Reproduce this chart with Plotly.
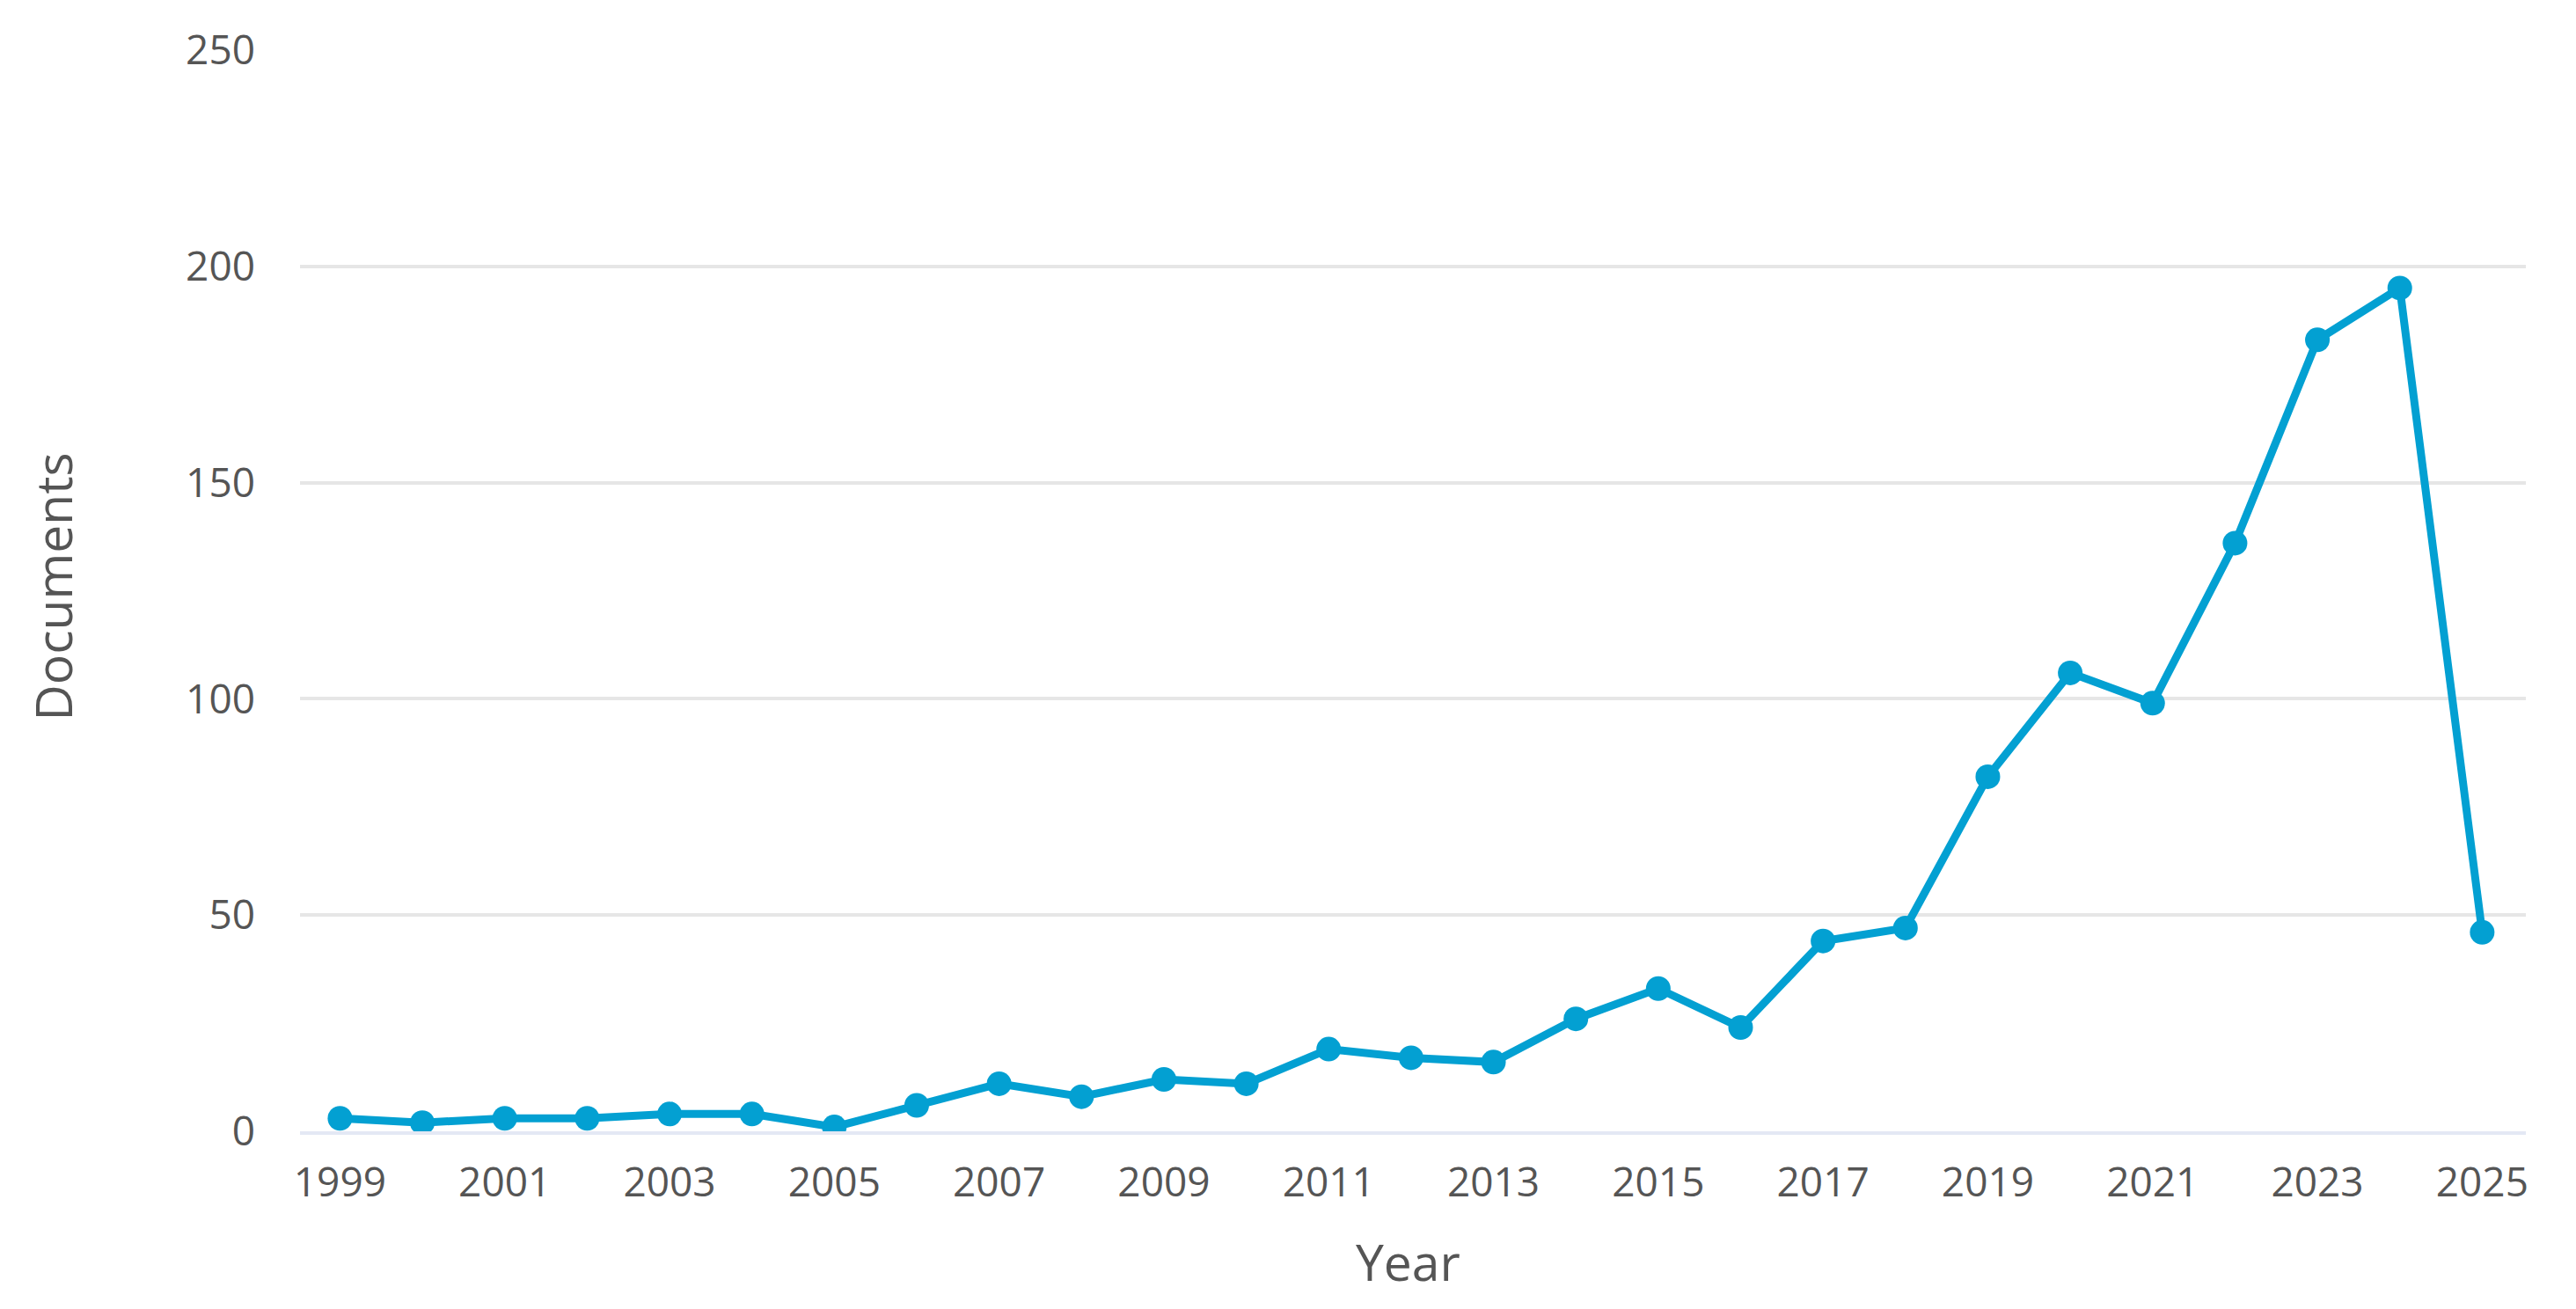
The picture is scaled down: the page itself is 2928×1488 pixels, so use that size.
import plotly.graph_objects as go

years = list(range(1999, 2026))
documents = [3, 2, 3, 3, 4, 4, 1, 6, 11, 8, 12, 11, 19, 17, 16, 26, 33, 24, 44, 47,
             82, 106, 99, 136, 183, 195, 46]
x_ticks = list(range(1999, 2026, 2))
y_ticks = [0, 50, 100, 150, 200, 250]

W, H = 2928, 1488
L, R, T, B = 341, 57, 57, 202

line_color = "#03a0d2"
text_color = "#555555"
font_family = "Open Sans, Roboto, sans-serif"

fig = go.Figure()
fig.add_trace(go.Scatter(
    x=years, y=documents, mode="lines+markers",
    line=dict(color=line_color, width=9),
    marker=dict(color=line_color, size=28, line=dict(width=0)),
    showlegend=False,
))

fig.update_layout(
    width=W, height=H,
    margin=dict(l=L, r=R, t=T, b=B),
    paper_bgcolor="white", plot_bgcolor="white",
    font=dict(family=font_family, color=text_color, size=46),
    xaxis=dict(
        range=[1998.515, 2025.53],
        tickvals=x_ticks, ticktext=[str(v) for v in x_ticks],
        showgrid=False, zeroline=False,
        showline=True, linecolor="#e4e8f4", linewidth=4,
        ticks="", ticklabelstandoff=15,
        tickfont=dict(size=46, color=text_color),
    ),
    yaxis=dict(
        range=[0, 250],
        tickvals=y_ticks,
        showgrid=True, gridcolor="#e6e6e6", gridwidth=4,
        zeroline=False, showline=False,
        ticks="", ticklabelstandoff=50,
        tickfont=dict(size=46, color=text_color),
    ),
    annotations=[
        dict(text="Documents", xref="paper", yref="paper",
             x=(59 - L) / (W - L - R), y=(H - B - 667.5) / (H - T - B),
             xanchor="center", yanchor="middle", textangle=-90,
             showarrow=False, font=dict(size=57, color=text_color)),
        dict(text="Year", xref="paper", yref="paper",
             x=(1600 - L) / (W - L - R), y=(H - B - 1434) / (H - T - B),
             xanchor="center", yanchor="middle",
             showarrow=False, font=dict(size=57, color=text_color)),
    ],
)

fig.write_html("out.html",
               config={"displayModeBar": False},
               post_script="document.body.style.margin='0';document.body.style.overflow='hidden';")
